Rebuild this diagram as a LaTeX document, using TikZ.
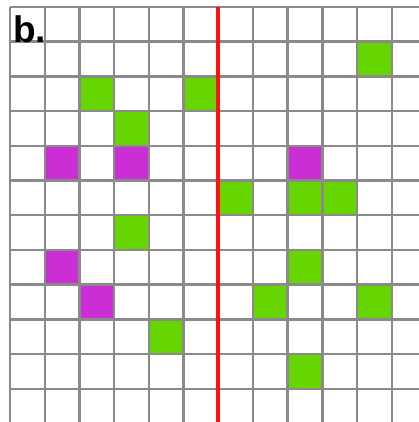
\documentclass[tikz,border=0pt]{standalone}
\usepackage{fontspec}
\setmainfont{Liberation Sans}
\definecolor{cellgreen}{HTML}{66D500}
\definecolor{cellmag}{HTML}{CC2ED6}
\definecolor{gridgray}{HTML}{8A8A8A}
\definecolor{splitred}{HTML}{FF1010}
\tikzset{
  gcell/.style={fill=cellgreen},
  mcell/.style={fill=cellmag},
  gridline/.style={draw=gridgray, line width=2.4pt},
  splitline/.style={draw=splitred, line width=3.6pt},
  paneltag/.style={font=\bfseries\fontsize{37}{40}\selectfont, inner sep=0pt, anchor=north west}
}
\begin{document}
\begin{tikzpicture}[x=1pt,y=-1pt]
\useasboundingbox (0,0) rectangle (419,422);
\fill[white] (0,0) rectangle (419,422);
\def\s{34.7}
% green cells (col,row)
\foreach \c/\r in {10/1, 2/2, 5/2, 3/3, 6/5, 8/5, 9/5, 3/6, 8/7, 7/8, 10/8, 4/9, 8/10}
  \path[gcell] ({10+\c*\s},{7+\r*\s}) rectangle ++(\s,\s);
% magenta cells
\foreach \c/\r in {1/4, 3/4, 8/4, 1/7, 2/8}
  \path[mcell] ({10+\c*\s},{7+\r*\s}) rectangle ++(\s,\s);
% grid
\foreach \i in {0,...,11}
  \draw[gridline] ({10+\i*\s},7) -- ({10+\i*\s},422);
\foreach \j in {0,...,11}
  \draw[gridline] (10,{7+\j*\s}) -- (419,{7+\j*\s});
% red divider
\coordinate (redtop) at ({10+6*\s},7);
\coordinate (redbot) at ({10+6*\s},422);
\draw[splitline] (redtop) -- (redbot);
% label
\node[paneltag] (tag) at (13,15) {b.};
\end{tikzpicture}
\end{document}
